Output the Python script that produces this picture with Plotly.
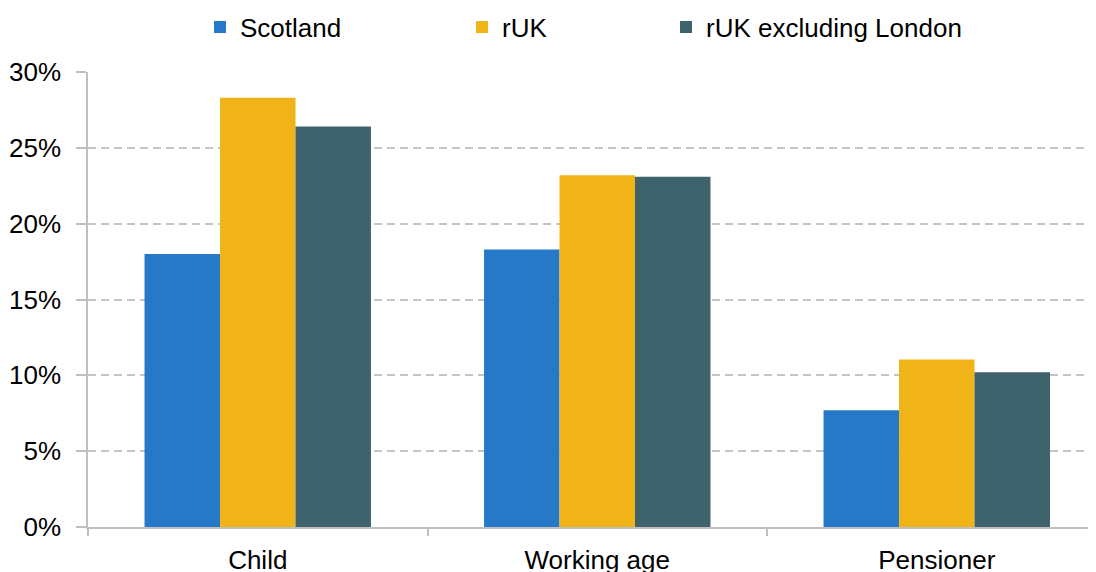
import plotly.graph_objects as go

categories = ["Child", "Working age", "Pensioner"]
scotland = [18.0, 18.3, 7.7]
ruk = [28.3, 23.2, 11.05]
ruk_ex_london = [26.4, 23.1, 10.2]
y_ticks = [0, 5, 10, 15, 20, 25, 30]
y_tick_labels = ["0%", "5%", "10%", "15%", "20%", "25%", "30%"]

colors = ["#2678C8", "#F0B419", "#3F636C"]
FONT = "Liberation Sans, Arial, sans-serif"

fig = go.Figure()
fig.add_trace(go.Bar(name="Scotland", x=categories, y=scotland,
                     marker=dict(color=colors[0], line=dict(width=0)), legend="legend"))
fig.add_trace(go.Bar(name="rUK", x=categories, y=ruk,
                     marker=dict(color=colors[1], line=dict(width=0)), legend="legend2"))
fig.add_trace(go.Bar(name="rUK excluding London", x=categories, y=ruk_ex_london,
                     marker=dict(color=colors[2], line=dict(width=0)), legend="legend3"))

# page body has an 8px margin; size the figure to fit the 1096x572 window exactly
W, H = 1088, 564
ml, mr, mt, mb = 80, 0, 64, 45

leg_common = dict(orientation="h", yanchor="middle", xanchor="left",
                  xref="container", yref="container",
                  font=dict(family=FONT, size=26, color="#000000"),
                  bgcolor="rgba(0,0,0,0)", borderwidth=0, traceorder="normal")

fig.update_layout(
    width=W, height=H,
    showlegend=True,
    margin=dict(l=ml, r=mr, t=mt, b=mb, pad=0, autoexpand=False),
    paper_bgcolor="white", plot_bgcolor="white",
    barmode="group", bargap=0.333, bargroupgap=0,
    font=dict(family=FONT, size=26, color="#000000"),
    legend=dict(x=192 / W, y=1 - 19 / H, **leg_common),
    legend2=dict(x=454 / W, y=1 - 19 / H, **leg_common),
    legend3=dict(x=658 / W, y=1 - 19 / H, **leg_common),
    xaxis=dict(
        range=[-0.5, 2.469], automargin=False,
        showline=True, linecolor="#BFBFBF", linewidth=1.5,
        ticks="outside", tickson="boundaries", ticklen=7, tickcolor="#BFBFBF", tickwidth=1.5,
        showgrid=False,
        tickfont=dict(family=FONT, size=26, color="#000000"),
        ticklabelstandoff=9,
    ),
    yaxis=dict(
        range=[0, 30], automargin=False,
        tickvals=y_ticks, ticktext=y_tick_labels,
        showline=True, linecolor="#BFBFBF", linewidth=1.5,
        ticks="outside", ticklen=10, tickcolor="#BFBFBF", tickwidth=1.5,
        showgrid=True, gridcolor="#C4C4C4", gridwidth=1.5, griddash="8px,5px",
        zeroline=False,
        tickfont=dict(family=FONT, size=26, color="#000000"),
        ticklabelstandoff=10,
    ),
)

fig.write_html("out.html")
